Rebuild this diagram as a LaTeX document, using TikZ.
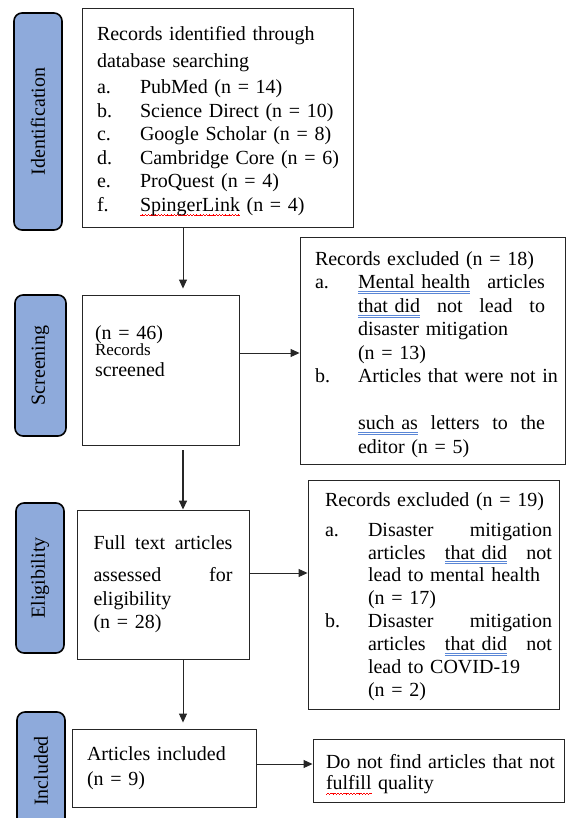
\documentclass[tikz,border=0pt]{standalone}
\usepackage{fontspec}
\setmainfont{Liberation Serif}
\usetikzlibrary{arrows.meta}
\setlength{\parindent}{0pt}
\hyphenpenalty=10000
\definecolor{phaseblue}{HTML}{8EAADB}
\definecolor{gramblue}{HTML}{5B87D6}
\newsavebox{\ulbox}
\newcommand{\gramline}[1]{\sbox{\ulbox}{#1}\mbox{\rlap{\textcolor{gramblue}{\rule[-3pt]{\wd\ulbox}{0.6pt}}}\rlap{\textcolor{gramblue}{\rule[-5pt]{\wd\ulbox}{0.6pt}}}\usebox{\ulbox}}}
\newcommand{\spellline}[1]{\sbox{\ulbox}{#1}\mbox{\rlap{\textcolor{red}{\hbox to\wd\ulbox{\xleaders\hbox{\rule[-4.5pt]{0.8pt}{0.5pt}\rule[-4pt]{0.8pt}{0.5pt}\rule[-3.5pt]{0.8pt}{0.5pt}\rule[-4pt]{0.8pt}{0.5pt}}\hfill}}}\usebox{\ulbox}}}
\newcommand{\listitem}[3][0pt]{\hspace*{#1}\makebox[43pt][l]{#2}\mbox{#3}}
\newcommand{\itemgap}[1][0pt]{\hspace*{\dimexpr43pt+#1\relax}}
\newcommand{\justline}[2]{\leavevmode\hbox to #1{#2}}
\newcommand{\toppad}{\rule{0pt}{22pt}}

\begin{document}
\begin{tikzpicture}[x=1pt,y=-1pt,
  every node/.style={font=\fontsize{20}{23.5}\selectfont},
  phase/.style={draw,line width=1.6pt,fill=phaseblue,rounded corners=8pt,rotate=90,inner sep=0pt},
  box/.style={draw=black!85,line width=0.9pt,inner ysep=0pt,align=left},
  flowarrow/.style={-{Triangle[length=9pt,width=8pt]},line width=1pt,black!85}]
  \useasboundingbox (0,0) rectangle (566,818);
  \clip (0,0) rectangle (566,818);

  \node[phase,minimum width=217,minimum height=48] (identlabel) at (38,121.5) {Identification};
  \node[phase,minimum width=141,minimum height=51] (screenlabel) at (40.5,365.5) {Screening};
  \node[phase,minimum width=150,minimum height=48] (eliglabel) at (40,578) {Eligibility};
  \node[phase,minimum width=118,minimum height=48] (incllabel) at (41,771) {Included};

  \node[box,minimum width=271,minimum height=219,text width=241] (records) at (217.5,117.5)
    {\toppad Records identified through\\[3.5pt]database searching\\[2.5pt]
    \listitem{a.}{PubMed (n = 14)}\\\listitem{b.}{Science Direct (n = 10)}\\
    \listitem{c.}{Google Scholar (n = 8)}\\\listitem{d.}{Cambridge Core (n = 6)}\\
    \listitem{e.}{ProQuest (n = 4)}\\\listitem{f.}{\spellline{SpingerLink} (n = 4)}};
  \node[box,minimum width=157,minimum height=150,text width=131] (screened) at (160.5,370)
    {(n = 46)\\[-7pt]{\fontsize{17}{20}\selectfont Records}\\[-3pt]screened\rule[-38pt]{0pt}{38pt}};
  \node[box,minimum width=172,minimum height=149,text width=139] (fulltext) at (163,584.5)
    {\justline{139pt}{Full \hfil text \hfil articles}\\[8.5pt]\justline{139pt}{assessed \hfil for}\\eligibility\\(n = 28)};
  \node[box,minimum width=184,minimum height=78,text width=154] (included) at (164,768)
    {Articles included\\[1.5pt](n = 9)};

  \node[box,minimum width=265,minimum height=227,text width=235] (excludedA) at (432.5,350.5)
    {\toppad Records excluded (n = 18)\\
    \listitem{a.}{\justline{187pt}{\gramline{Mental health} \hfil articles}}\\
    \itemgap\justline{187pt}{\gramline{that did} \hfil not \hfil lead \hfil to}\\
    \itemgap disaster mitigation\\
    \itemgap(n = 13)\\
    \listitem{b.}{Articles that were not in}\\
    \mbox{}\\
    \itemgap\justline{187pt}{\gramline{such as} \hfil letters \hfil to \hfil the}\\
    \itemgap editor (n = 5)};
  \node[box,minimum width=251,minimum height=229,text width=237,font=\fontsize{20}{22.9}\selectfont] (excludedB) at (433.5,594.5)
    {\rule{0pt}{18pt}\hspace*{10pt}Records excluded (n = 19)\\[7pt]
    \listitem[10pt]{a.}{\justline{184pt}{Disaster \hfil mitigation}}\\
    \itemgap[10pt]\justline{184pt}{articles \hfil \gramline{that did} \hfil not}\\
    \itemgap[10pt]lead to mental health\\
    \itemgap[10pt](n = 17)\\
    \listitem[10pt]{b.}{\justline{184pt}{Disaster \hfil mitigation}}\\
    \itemgap[10pt]\justline{184pt}{articles \hfil \gramline{that did} \hfil not}\\
    \itemgap[10pt]lead to COVID-19\\
    \itemgap[10pt](n = 2)};
  \node[box,minimum width=251,minimum height=63,text width=225] (notfound) at (438.5,770.5)
    {\toppad\mbox{Do not find articles that not}\\[-2.5pt]\spellline{fulfill} quality};

  \coordinate (spine) at (183,0);
  \coordinate (screenedout) at ([yshift=17pt]screened.east);
  \coordinate (fulltextout) at ([yshift=11.5pt]fulltext.east);
  \coordinate (includedout) at ([yshift=4pt]included.east);
  \draw[flowarrow,shorten >=6pt] (records.south -| spine) -- (screened.north -| spine);
  \draw[flowarrow] (screenedout) -- (screenedout -| excludedA.west);
  \draw[flowarrow,line width=1.6pt,shorten <=5pt] (screened.south -| spine) -- (fulltext.north -| spine);
  \draw[flowarrow] (fulltextout) -- (fulltextout -| excludedB.west);
  \draw[flowarrow,shorten >=6pt] (fulltext.south -| spine) -- (included.north -| spine);
  \draw[flowarrow] (includedout) -- (includedout -| notfound.west);
\end{tikzpicture}
\end{document}
